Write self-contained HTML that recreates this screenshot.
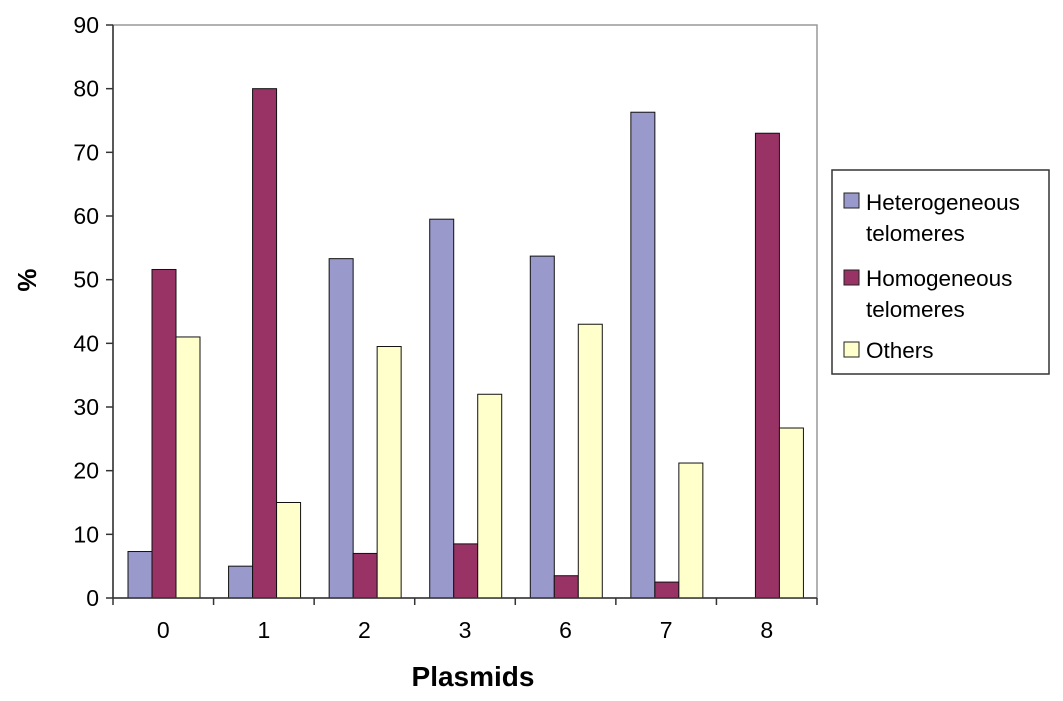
<!DOCTYPE html>
<html><head><meta charset="utf-8"><style>
body{margin:0;background:#fff;}
svg{display:block;font-family:"Liberation Sans",Arial,sans-serif;}
</style></head><body>
<svg id="chart" width="1063" height="701">
<rect x="113" y="25" width="704" height="573" fill="none" stroke="#999" stroke-width="1.5"/>
<g id="bars"></g>
<g id="axes"></g>
<text x="36" y="280" transform="rotate(-90 36 280)" text-anchor="middle" font-size="26" font-weight="bold">%</text>
<text x="473" y="686" text-anchor="middle" font-size="28" font-weight="bold">Plasmids</text>
<g>
<rect x="832" y="170" width="217" height="204" fill="#fff" stroke="#333" stroke-width="1.5"/>
<g>
<rect x="844" y="193" width="15" height="15" fill="#9999cc" stroke="#222"/>
<text x="866" y="210" font-size="22.5">Heterogeneous</text>
<text x="866" y="241" font-size="22.5">telomeres</text></g>
<g>
<rect x="844" y="270" width="15" height="15" fill="#993366" stroke="#222"/>
<text x="866" y="286" font-size="22.5">Homogeneous</text>
<text x="866" y="317" font-size="22.5">telomeres</text></g>
<g>
<rect x="844" y="342" width="15" height="15" fill="#ffffcc" stroke="#222"/>
<text x="866" y="358" font-size="22.5">Others</text></g>
</g>
</svg>
<script>
const categories=["0","1","2","3","6","7","8"];
const heterogeneous=[7.3,5,53.3,59.5,53.7,76.3,0];
const homogeneous=[51.6,80,7,8.5,3.5,2.5,73];
const others=[41,15,39.5,32,43,21.2,26.7];
const yTicks=[0,10,20,30,40,50,60,70,80,90];
const NS="http://www.w3.org/2000/svg";
const X0=113,X1=817,Y0=598,Y1=25,YMAX=90;
const gw=(X1-X0)/categories.length;
function y(v){return Y0-(v/YMAX)*(Y0-Y1);}
function gx(i){return X0+i*gw;}
function mk(t,a,p){const e=document.createElementNS(NS,t);for(const k in a)e.setAttribute(k,a[k]);p.appendChild(e);return e;}
const bars=document.getElementById('bars'),axes=document.getElementById('axes');
const series=[[heterogeneous,"#9999cc","heterogeneous"],[homogeneous,"#993366","homogeneous"],[others,"#ffffcc","others"]];
const bw=24;
categories.forEach((c,i)=>{
 series.forEach((s,j)=>{
  const v=s[0][i];if(v<=0)return;
  const x=gx(i)+15+j*bw;
  const r=mk('rect',{x:x,y:y(v),width:bw,height:Y0-y(v),fill:s[1],stroke:"#111","stroke-width":1},bars);
  
  
 });
 const t=mk('text',{x:gx(i)+gw/2,y:Y0+40,"text-anchor":"middle","font-size":23},axes);
 t.textContent=c;
 
 
});
for(let i=0;i<=categories.length;i++){mk('line',{x1:gx(i),x2:gx(i),y1:Y0,y2:Y0+7,stroke:"#333","stroke-width":1.5},axes);}
mk('line',{x1:X0,x2:X1,y1:Y0,y2:Y0,stroke:"#333","stroke-width":1.5},axes);
mk('line',{x1:X0,x2:X0,y1:Y1,y2:Y0,stroke:"#333","stroke-width":1.5},axes);
yTicks.forEach(v=>{
 mk('line',{x1:X0-7,x2:X0,y1:y(v),y2:y(v),stroke:"#333","stroke-width":1.5},axes);
 const t=mk('text',{x:X0-14,y:y(v)+8,"text-anchor":"end","font-size":23},axes);
 t.textContent=v;
 
 
});
</script>
</body></html>
